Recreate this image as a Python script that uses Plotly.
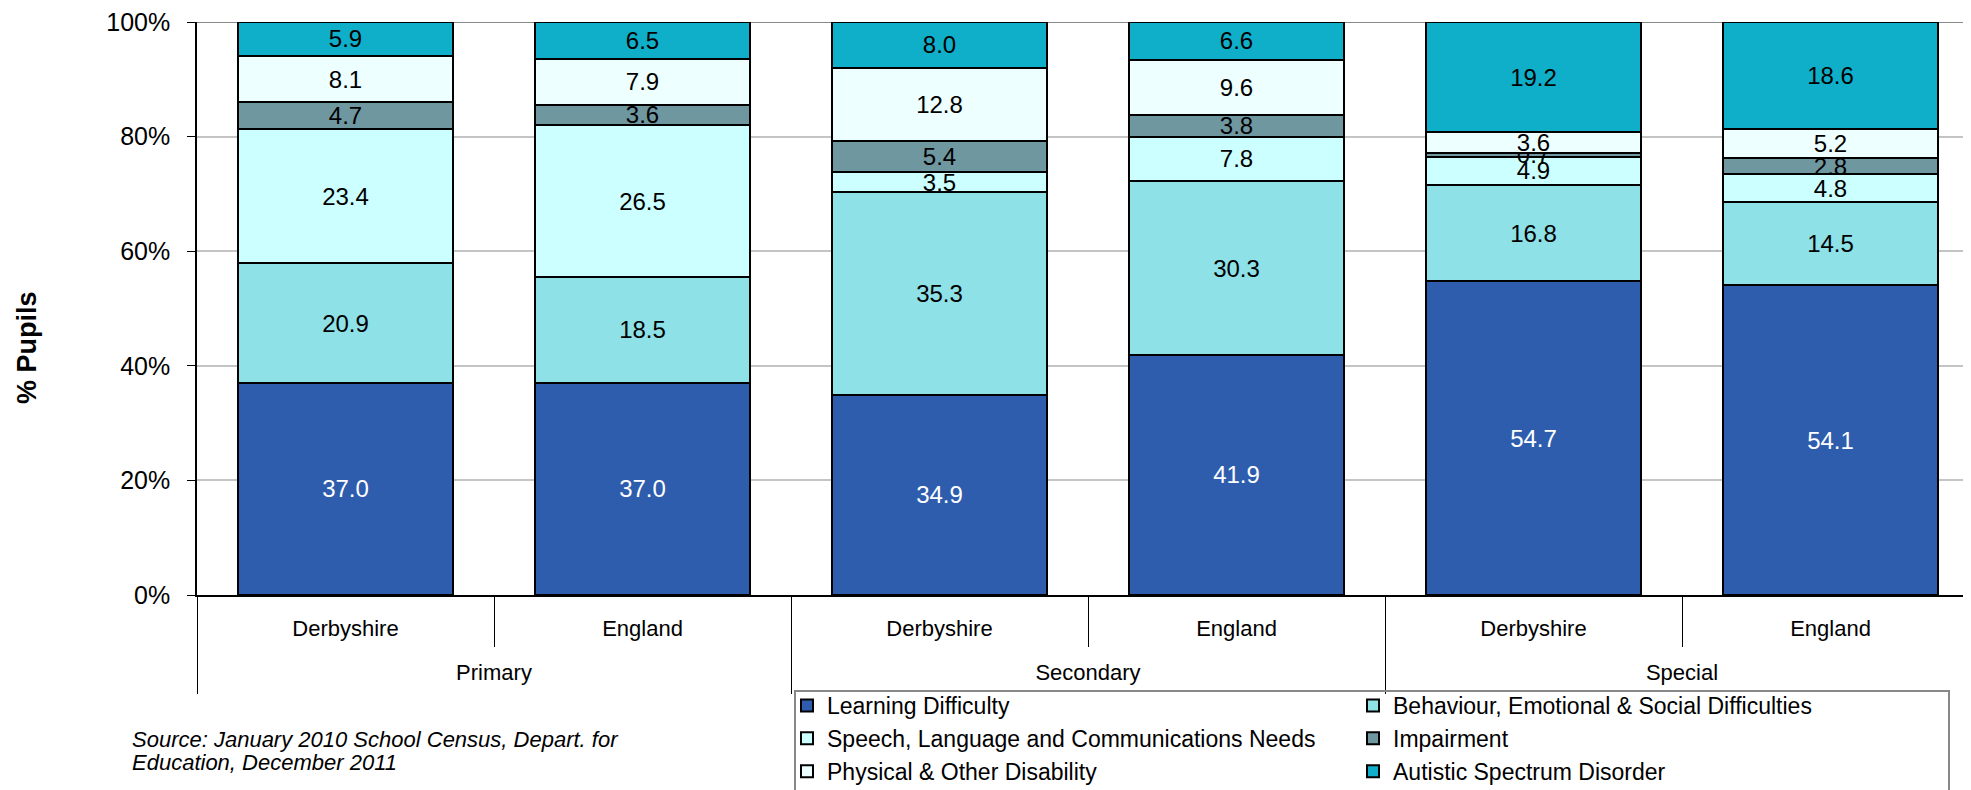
import plotly.graph_objects as go

phases = ["Primary", "Primary", "Secondary", "Secondary", "Special", "Special"]
areas = ["Derbyshire", "England", "Derbyshire", "England", "Derbyshire", "England"]
phase_groups = ["Primary", "Secondary", "Special"]

learning_difficulty = [37.0, 37.0, 34.9, 41.9, 54.7, 54.1]
behaviour = [20.9, 18.5, 35.3, 30.3, 16.8, 14.5]
speech = [23.4, 26.5, 3.5, 7.8, 4.9, 4.8]
impairment = [4.7, 3.6, 5.4, 3.8, 0.7, 2.8]
physical = [8.1, 7.9, 12.8, 9.6, 3.6, 5.2]
autistic = [5.9, 6.5, 8.0, 6.6, 19.2, 18.6]

series = [
    ("Learning Difficulty", learning_difficulty, "#2E5DAE", "white", "legend"),
    ("Behaviour, Emotional & Social Difficulties", behaviour, "#8DE1E7", "black", "legend2"),
    ("Speech, Language and Communications Needs", speech, "#CCFFFF", "black", "legend"),
    ("Impairment", impairment, "#6F97A0", "black", "legend2"),
    ("Physical & Other Disability", physical, "#EEFFFF", "black", "legend"),
    ("Autistic Spectrum Disorder", autistic, "#0FAFC9", "black", "legend2"),
]

FONT = "Liberation Sans, Arial, Helvetica, sans-serif"
OFF = 8  # page offset of the figure inside the html body
W, H = 1971, 790
ML, MT = 197 - OFF, 22 - OFF
MR = 0
MB = H - (595 - OFF)
PW, PH = W - ML - MR, H - MT - MB

def px_x(p):
    return (p - OFF - ML) / PW

def px_y(p):
    return (H - MB - (p - OFF)) / PH

keys = [f"{p} - {a}" for p, a in zip(phases, areas)]

fig = go.Figure()
for name, vals, color, tcolor, leg in series:
    fig.add_trace(go.Bar(
        x=keys,
        y=vals,
        name=name,
        legend=leg,
        marker=dict(color=color, line=dict(color="black", width=2)),
        text=[f"{v:.1f}" for v in vals],
        textposition="inside",
        insidetextanchor="middle",
        textangle=0,
        textfont=dict(color=tcolor, size=24, family=FONT),
        hoverinfo="skip",
    ))

# empty trace so that the phase-group axis (x2) is drawn
fig.add_trace(go.Scatter(x=[], y=[], xaxis="x2", yaxis="y", showlegend=False,
                         mode="markers", hoverinfo="skip"))

legend_common = dict(
    orientation="v",
    traceorder="normal",
    yanchor="top", xanchor="left",
    font=dict(size=23, family=FONT, color="black"),
    borderwidth=0,
    bgcolor="rgba(0,0,0,0)",
    itemwidth=30,
)

fig.update_layout(
    width=W, height=H,
    margin=dict(l=ML, r=MR, t=MT, b=MB, pad=0, autoexpand=False),
    barmode="stack",
    barnorm="percent",
    bargap=0.276,
    plot_bgcolor="white",
    paper_bgcolor="white",
    font=dict(family=FONT, color="black"),
    uniformtext=dict(minsize=24, mode="show"),
    legend=dict(legend_common, x=px_x(787), y=px_y(684)),
    legend2=dict(legend_common, x=px_x(1353), y=px_y(684)),
    xaxis=dict(
        type="category",
        automargin=False,
        tickmode="array", tickvals=keys, ticktext=areas,
        showline=True, linecolor="black", linewidth=2,
        ticks="outside", tickson="boundaries", ticklen=50,
        tickcolor="black", tickwidth=1,
        ticklabelstandoff=13,
        tickfont=dict(size=22, family=FONT, color="black"),
        showgrid=False,
    ),
    xaxis2=dict(
        overlaying="x", anchor="y", side="bottom",
        automargin=False,
        range=[0, len(phase_groups)],
        tickmode="array",
        tickvals=[i + 0.5 for i in range(len(phase_groups))],
        ticktext=phase_groups,
        ticks="",
        ticklabelstandoff=62,
        ticklabeloverflow="allow",
        minor=dict(tickmode="array", tickvals=list(range(len(phase_groups) + 1)),
                   ticks="outside", ticklen=98, tickcolor="black", tickwidth=1,
                   showgrid=False),
        showline=False, showgrid=False, zeroline=False,
        tickfont=dict(size=22, family=FONT, color="black"),
    ),
    yaxis=dict(
        automargin=False,
        range=[0, 100],
        tickvals=[0, 20, 40, 60, 80, 100],
        ticktext=["0%", "20%", "40%", "60%", "80%", "100%"],
        showline=True, linecolor="black", linewidth=1.5,
        ticks="outside", ticklen=8, tickcolor="black",
        ticklabelstandoff=12,
        ticklabeloverflow="allow",
        showgrid=True, gridcolor="#C4C4C4", gridwidth=1.5,
        tickfont=dict(size=25, family=FONT, color="black"),
        zeroline=False,
    ),
    shapes=[
        dict(type="line", xref="paper", yref="y", x0=0, x1=1, y0=100, y1=100,
             line=dict(color="#888888", width=2), layer="below"),
        dict(type="rect", xref="paper", yref="paper",
             x0=px_x(795), x1=px_x(1949), y0=px_y(691), y1=px_y(820),
             line=dict(color="#888888", width=2), fillcolor="rgba(0,0,0,0)", layer="above"),
    ],
    annotations=[
        dict(text="<b>% Pupils</b>", textangle=-90, xref="paper", yref="paper",
             x=px_x(27), y=px_y(348), xanchor="center", yanchor="middle",
             showarrow=False, font=dict(size=27, family=FONT, color="black")),
        dict(text="<i>Source: January 2010 School Census, Depart. for</i>", xref="paper", yref="paper",
             x=px_x(130), y=px_y(739), xanchor="left", yanchor="middle",
             showarrow=False, font=dict(size=22, family=FONT, color="black")),
        dict(text="<i>Education, December 2011</i>", xref="paper", yref="paper",
             x=px_x(130), y=px_y(762), xanchor="left", yanchor="middle",
             showarrow=False, font=dict(size=22, family=FONT, color="black")),
    ],
)

fig.write_html("out.html")
